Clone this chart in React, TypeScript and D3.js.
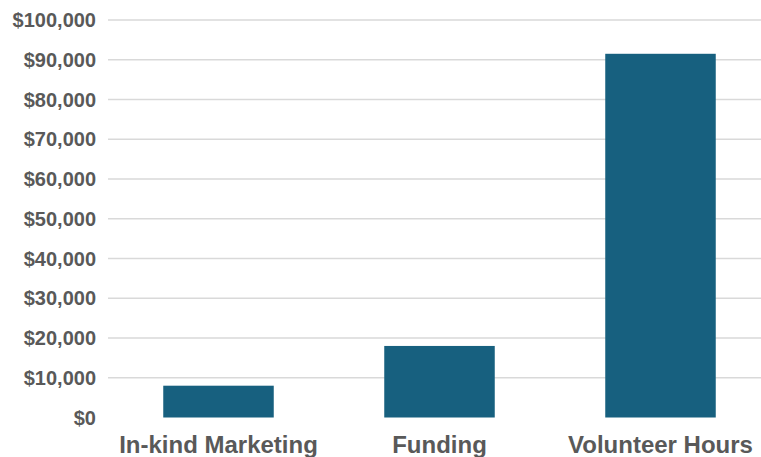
import * as d3 from "d3";
import { useEffect, useRef } from "react";

const categories = ["In-kind Marketing", "Funding", "Volunteer Hours"];
const values = [8000, 18000, 91500];
const yTicks = [0, 10000, 20000, 30000, 40000, 50000, 60000, 70000, 80000, 90000, 100000];

export default function App() {
  const svgRef = useRef<SVGSVGElement | null>(null);
  const width = 761;
  const height = 457;

  useEffect(() => {
    document.body.style.margin = "0";
    const svg = d3.select(svgRef.current);
    svg.selectAll("*").remove();

    const x = d3
      .scaleBand()
      .domain(categories)
      .range([108, 771])
      .paddingInner(0.5)
      .paddingOuter(0.25);
    const y = d3.scaleLinear().domain([0, 100000]).range([417.5, 20]);
    const fmt = (v: number) => "$" + d3.format(",")(v);

    // grid
    svg
      .append("g")
      .selectAll("line")
      .data(yTicks)
      .join("line")
      .attr("x1", 108)
      .attr("x2", 771)
      .attr("y1", (d) => y(d))
      .attr("y2", (d) => y(d))
      .attr("stroke", (d) => (d === 0 ? "none" : "#d9d9d9"))
      .attr("stroke-width", 1.3);

    svg
      .append("g")
      .selectAll("text")
      .data(yTicks)
      .join("text")
      .attr("x", 96)
      .attr("y", (d) => y(d) + 7)
      .attr("text-anchor", "end")
      .attr("font-family", "Liberation Sans, Arial, sans-serif")
      .attr("font-weight", "bold")
      .attr("font-size", 20)
      .attr("fill", "#595959")
      .text(fmt);

    svg
      .append("g")
      .selectAll("rect")
      .data(values)
      .join("rect")
      .attr("x", (_, i) => x(categories[i])!)
      .attr("width", x.bandwidth())
      .attr("y", (d) => y(d))
      .attr("height", (d) => y(0) - y(d))
      .attr("fill", "#17607f");

    svg
      .append("g")
      .selectAll("text")
      .data(categories)
      .join("text")
      .attr("x", (d) => x(d)! + x.bandwidth() / 2)
      .attr("y", 453)
      .attr("text-anchor", "middle")
      .attr("font-family", "Liberation Sans, Arial, sans-serif")
      .attr("font-weight", "bold")
      .attr("font-size", 24)
      .attr("fill", "#595959")
      .text((d) => d);
  }, []);

  return (
    <svg
      ref={svgRef}
      width={width}
      height={height}
      style={{ display: "block", position: "absolute", left: 0, top: 0, background: "#fff" }}
    ></svg>
  );
}
